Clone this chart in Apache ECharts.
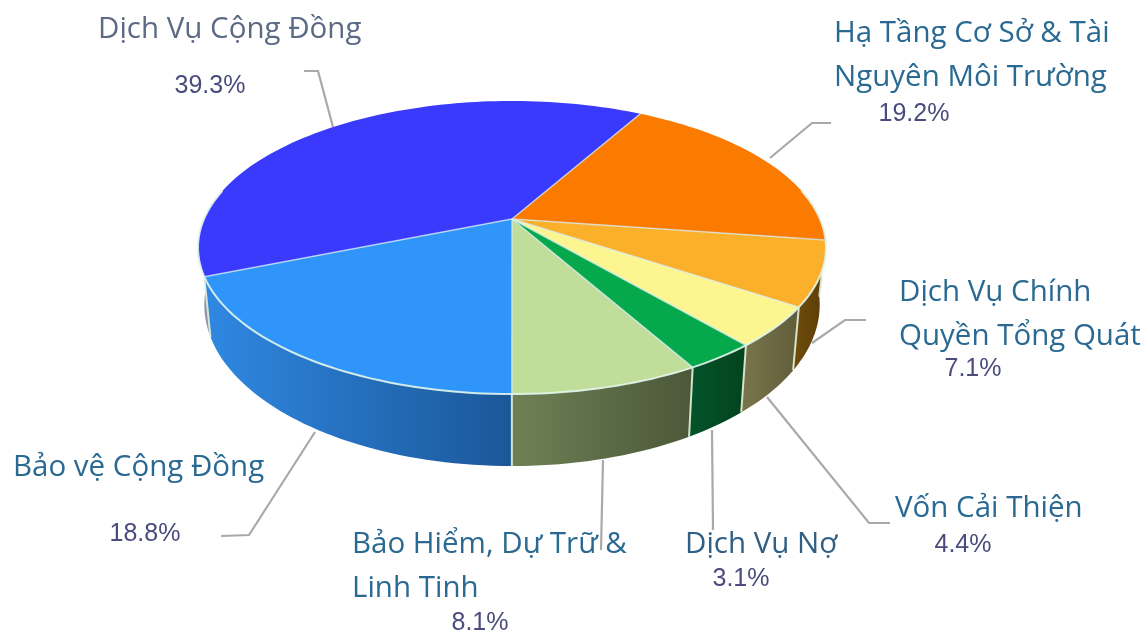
<!DOCTYPE html>
<html>
<head>
<meta charset="utf-8">
<style>html,body{margin:0;padding:0;background:#fff}#c{width:1142px;height:633px}</style>
<script src="https://cdn.jsdelivr.net/npm/echarts@6/dist/echarts.min.js"></script>
</head>
<body>
<div id="c"></div>
<script>
// ---- data ----
const categories = ['Dịch Vụ Cộng Đồng', 'Hạ Tầng Cơ Sở & Tài\nNguyên Môi Trường', 'Dịch Vụ Chính\nQuyền Tổng Quát', 'Vốn Cải Thiện', 'Dịch Vụ Nợ', 'Bảo Hiểm, Dự Trữ &\nLinh Tinh', 'Bảo vệ Cộng Đồng'];
const shares = [39.3, 19.2, 7.1, 4.4, 3.1, 8.1, 18.8];

// ---- styles ----
const topColors = ['#3a3afc', '#fb7a00', '#fbb02c', '#fdf690', '#05a94b', '#c0de9a', '#2f95fb'];
const wallColors = [['#8f94ac', '#8f94ac'], ['#6f4d0d', '#6f4d0d'], ['#6f4d0d', '#5a3c05'], ['#79754b', '#615d3a'], ['#03532a', '#03431d'], ['#6f8055', '#4b5839'], ['#2f88e2', '#1b5798']];
const nameColors = ['#5c6a86', '#2a6a92', '#2a6a92', '#2a6a92', '#2f5f85', '#2a6a92', '#2a6a92'];

// ---- layout (pixels on the page) ----
const geo = { cx: 512, cy: 219, rx: 308, ry: 141, k: 0.1945, startDeg: 157.7, depthFront: 72, depthSlope: 0.1, shrink: 0.98 };
const nameAt = [[98, 30], [834, 34], [899, 293], [895, 509], [685, 545], [352, 545], [13, 468]];
const pctAt = [[210, 86], [914, 114], [973, 369], [963, 545], [741, 579], [480, 623], [145, 534]];
const leaders = [
  [[304, 71], [318, 71], [333, 127]],
  [[831, 123], [812, 123], [770, 158]],
  [[866, 320], [845, 320], [812, 343]],
  [[890, 523], [869, 523], [767, 397]],
  [[712, 430], [713, 530]],
  [[603, 460], [601, 550]],
  [[315, 432], [249, 535], [221, 536]]
];

// ---- projection of a flat disc seen in perspective ----
function topPoint(deg) {
  const t = deg * Math.PI / 180, c = Math.cos(t), s = Math.sin(t), w = 1 - geo.k * s;
  return [geo.cx + geo.rx * c / w, geo.cy + geo.ry * s / w];
}
function lowPoint(deg) {
  const p = topPoint(deg);
  const front = geo.cy + geo.ry / (1 - geo.k);
  return [geo.cx + (p[0] - geo.cx) * geo.shrink, p[1] + geo.depthFront - (front - p[1]) * geo.depthSlope];
}
function arc(fn, a, b) {
  const n = Math.max(2, Math.ceil(Math.abs(b - a) / 1.5)), pts = [];
  for (let i = 0; i <= n; i++) pts.push(fn(a + (b - a) * i / n));
  return pts;
}

const total = shares.reduce((a, b) => a + b, 0);
const cum = [0];
shares.forEach((v, i) => cum.push(cum[i] + v));
const toDeg = v => echarts.number.linearMap(v, [0, total], [geo.startDeg, geo.startDeg + 360]);

function render(params, api) {
  const i = params.dataIndex;
  const a = toDeg(cum[i]);
  const b = a + (api.value(0) / total) * 360;
  const children = [];

  // leader
  children.push({ type: 'polyline', z2: 0, shape: { points: leaders[i] }, style: { fill: null, stroke: '#a9a9a9', lineWidth: 2.2 }, silent: true });

  // wall: only the part of the rim facing the viewer
  const ranges = [[a, b], [a - 360, b - 360]];
  ranges.forEach(r => {
    const lo = Math.max(r[0], -12), hi = Math.min(r[1], 192);
    if (hi <= lo) return;
    const upper = arc(topPoint, lo, hi), lower = arc(lowPoint, lo, hi).reverse();
    children.push({
      type: 'polygon', z2: 1, shape: { points: upper.concat(lower) },
      style: { fill: new echarts.graphic.LinearGradient(0, 0, 1, 0, [{ offset: 0, color: wallColors[i][0] }, { offset: 1, color: wallColors[i][1] }]) }
    });
    // rim highlight and wall separator
    children.push({ type: 'polyline', z2: 4, shape: { points: upper }, style: { fill: null, stroke: 'rgba(225,245,235,0.9)', lineWidth: 2 }, silent: true });
    if (r[0] >= -12 && r[0] <= 192) {
      children.push({ type: 'polyline', z2: 2, shape: { points: [topPoint(r[0]), lowPoint(r[0])] }, style: { fill: null, stroke: 'rgba(228,238,215,0.9)', lineWidth: 2 }, silent: true });
    }
  });

  // top face
  const apex = [geo.cx, geo.cy];
  children.push({ type: 'polygon', z2: 3, shape: { points: [apex].concat(arc(topPoint, a, b)) }, style: { fill: topColors[i] } });
  children.push({ type: 'polyline', z2: 4, shape: { points: [apex, topPoint(a)] }, style: { fill: null, stroke: 'rgba(215,235,240,0.75)', lineWidth: 1.5 }, silent: true });

  // labels
  const lines = categories[i].split('\n');
  lines.forEach((t, j) => {
    children.push({ type: 'text', z2: 6, x: nameAt[i][0], y: nameAt[i][1] + j * 44, style: { text: t, fill: nameColors[i], font: '29.5px "Open Sans", sans-serif', textAlign: 'left', textVerticalAlign: 'middle' } });
  });
  children.push({ type: 'text', z2: 6, x: pctAt[i][0], y: pctAt[i][1], style: { text: api.value(0).toFixed(1) + '%', fill: '#4b4b7d', font: '25px "Liberation Sans", Arial, sans-serif', textAlign: 'center', textVerticalAlign: 'middle' } });

  return { type: 'group', children };
}

const chart = echarts.init(document.getElementById('c'), null, { renderer: 'canvas' });
chart.setOption({
  backgroundColor: '#ffffff',
  animation: false,
  series: [{
    type: 'custom',
    coordinateSystem: 'none',
    renderItem: render,
    data: shares.map((v, i) => ({ name: categories[i], value: [v] }))
  }]
});
</script>
</body>
</html>
